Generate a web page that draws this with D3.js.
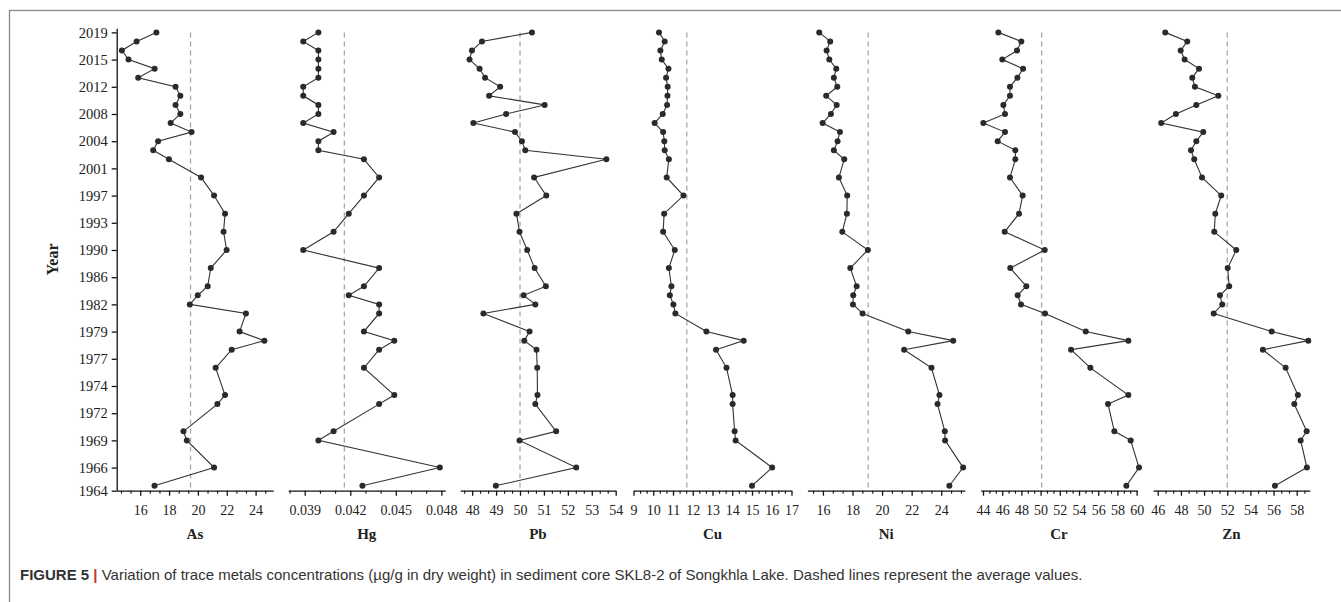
<!DOCTYPE html>
<html><head><meta charset="utf-8">
<script src="https://cdn.jsdelivr.net/npm/d3@7"></script>
<style>body{margin:0;background:#fff} svg{display:block}</style>
</head><body><svg id="c" width="1341" height="602"></svg>
<script>
// ---- data ----
const metals = ["As","Hg","Pb","Cu","Ni","Cr","Zn"];
// sample positions along the core (top = most recent)
const depth = [1,2,3,4,5,6,7,8,9,10,11,12,13,14,15,17,19,21,23,25,27,29,30,31,32,34,35,36,38,41,42,45,46,49,51];
const yearTickDepth = [1,4,7,10,13,16,19,22,25,28,31,34,37,40,43,46,49,51.55];
const yearTickLabels = ["2019","2015","2012","2008","2004","2001","1997","1993","1990","1986","1982","1979","1977","1974","1972","1969","1966","1964"];

const As = [17.12,15.75,14.73,15.19,17.0,15.86,18.45,18.78,18.45,18.78,18.11,19.56,17.24,16.9,17.99,20.22,21.12,21.88,21.78,21.99,20.89,20.68,19.99,19.44,23.33,22.89,24.61,22.34,21.23,21.88,21.35,19.0,19.23,21.12,16.99];
const Hg = [0.0399,0.0389,0.0399,0.0399,0.0399,0.0399,0.0389,0.0389,0.0399,0.0399,0.0389,0.0409,0.0399,0.0399,0.0429,0.0439,0.0429,0.0419,0.0409,0.0389,0.0439,0.0429,0.0419,0.0439,0.0439,0.0429,0.0449,0.0439,0.0429,0.0449,0.0439,0.0409,0.0399,0.0479,0.0428];
const Pb = [50.5,48.41,47.99,47.89,48.31,48.54,49.17,48.71,51.03,49.42,48.05,49.79,50.08,50.22,53.61,50.59,51.1,49.85,49.98,50.3,50.61,51.08,50.15,50.64,48.47,50.4,50.18,50.69,50.72,50.73,50.64,51.51,49.98,52.35,48.99];
const Cu = [10.29,10.58,10.36,10.43,10.77,10.65,10.73,10.72,10.7,10.48,10.07,10.5,10.56,10.58,10.79,10.68,11.53,10.55,10.5,11.09,10.79,10.92,10.84,11.02,11.12,12.69,14.58,13.18,13.71,14.02,14.02,14.12,14.17,16.02,15.0];
const Ni = [15.75,16.49,16.25,16.43,16.9,16.74,16.97,16.22,16.93,16.54,15.98,17.15,16.99,16.74,17.44,17.08,17.64,17.62,17.31,19.04,17.85,18.28,18.05,18.03,18.68,21.77,24.81,21.49,23.34,23.88,23.75,24.24,24.26,25.48,24.55];
const Cr = [45.6,47.99,47.54,46.01,48.17,47.58,46.81,46.81,46.12,46.29,44.03,46.29,45.53,47.37,47.37,46.81,48.13,47.75,46.26,50.43,46.84,48.51,47.61,47.96,50.46,54.7,59.14,53.17,55.18,59.14,57.02,57.68,59.38,60.25,58.93];
const Zn = [46.65,48.55,47.98,48.32,49.56,48.98,49.21,51.23,49.33,47.57,46.3,49.93,49.33,48.87,49.15,49.82,51.48,50.97,50.88,52.78,52.04,52.17,51.37,51.57,50.83,55.84,59.0,55.08,57.04,58.1,57.79,58.86,58.34,58.88,56.12];
const series = [As,Hg,Pb,Cu,Ni,Cr,Zn];
const meanValues = [19.49,0.04161,50.0,11.7,19.06,50.1,52.0];

const xDomains = [[14.37,25.22],[0.03791,0.04826],[47.5,54],[9,17],[14.95,25.6],[43.75,60.07],[45.59,59.13]];
const majorTicks = [
  [16,18,20,22,24],
  [0.039,0.042,0.045,0.048],
  [48,49,50,51,52,53,54],
  [9,10,11,12,13,14,15,16,17],
  [16,18,20,22,24],
  [44,46,48,50,52,54,56,58,60],
  [46,48,50,52,54,56,58]
];
const tickDecimals = [0,3,0,0,0,0,0];
const captionBold = "FIGURE 5";
const captionText = "Variation of trace metals concentrations (\u00b5g/g in dry weight) in sediment core SKL8-2 of Songkhla Lake. Dashed lines represent the average values.";

// ---- layout ----
const panelRanges = [[116.7,273.2],[288.2,445.3],[460.2,615.7],[633.5,791.5],[807.4,964.9],[980.6,1137.3],[1153,1309.8]];
const yTop = 28.3, yBot = 490.7;
const serif = "Liberation Serif, Times New Roman, serif";

const svg = d3.select("#c");
svg.append("rect").attr("x",9.5).attr("y",10.5).attr("width",1345).attr("height",600)
   .attr("fill","none").attr("stroke","#8a8a8a").attr("stroke-width",1.3);

const y = d3.scaleLinear().domain([0.55, 51.55]).range([yTop, yBot]);

// y axis
const yAxis = svg.append("g").attr("transform",`translate(${panelRanges[0][0]},0)`)
  .call(d3.axisLeft(y).tickValues(yearTickDepth).tickFormat((d,i)=>yearTickLabels[i]).tickSize(5).tickSizeOuter(0).tickPadding(4));
yAxis.attr("font-family",serif);
yAxis.selectAll("text").style("font-family",serif).attr("font-size",14.5).attr("fill","#222");
yAxis.selectAll("path,line").attr("stroke","#111").attr("stroke-width",1.3);

svg.append("text").attr("transform",`translate(58,${(yTop+yBot)/2}) rotate(-90)`)
  .attr("text-anchor","middle").style("font-family",serif).attr("font-weight","bold")
  .attr("font-size",16).attr("fill","#222").text("Year");

metals.forEach((m,k)=>{
  const x = d3.scaleLinear().domain(xDomains[k]).range(panelRanges[k]);
  const maj = majorTicks[k];
  const step = (maj[1]-maj[0])/3;
  const minor = [];
  for (let i=-30;i<=60;i++){
    if (i%3===0) continue;
    const v = maj[0] + i*step;
    if (v >= xDomains[k][0]-1e-9 && v <= xDomains[k][1]+1e-9) minor.push(v);
  }
  const g = svg.append("g");
  const gm = g.append("g").attr("transform",`translate(0,${yBot})`)
    .call(d3.axisBottom(x).tickValues(minor).tickSize(3).tickSizeOuter(0).tickFormat(""));
  gm.select(".domain").remove();
  gm.selectAll("line").attr("stroke","#111").attr("stroke-width",1.1);
  const ga = g.append("g").attr("transform",`translate(0,${yBot})`)
    .call(d3.axisBottom(x).tickValues(maj).tickSize(5).tickSizeOuter(0).tickPadding(9)
      .tickFormat(d3.format(`.${tickDecimals[k]}f`)));
  ga.attr("font-family",serif);
  ga.selectAll("path,line").attr("stroke","#111").attr("stroke-width",1.3);
  ga.selectAll("text").style("font-family",serif).attr("font-size",14).attr("fill","#222");

  g.append("text").attr("x",(panelRanges[k][0]+panelRanges[k][1])/2).attr("y",539)
    .attr("text-anchor","middle").style("font-family",serif).attr("font-weight","bold")
    .attr("font-size",15).attr("fill","#222").text(m);

  g.append("line").attr("x1",x(meanValues[k])).attr("x2",x(meanValues[k]))
    .attr("y1",y(depth[0])).attr("y2",yBot)
    .attr("stroke","#a8a8a8").attr("stroke-width",1.3).attr("stroke-dasharray","5,4");

  const vals = series[k];
  const line = d3.line().x(v=>x(v)).y((v,i)=>y(depth[i]));
  g.append("path").datum(vals).attr("d",line).attr("fill","none")
    .attr("stroke","#333").attr("stroke-width",1.1);
  g.selectAll("circle.p").data(vals).join("circle").attr("class","p")
    .attr("cx",v=>x(v)).attr("cy",(v,i)=>y(depth[i])).attr("r",3).attr("fill","#2a2a2a");
});

// caption
const cap = svg.append("text").attr("x",20).attr("y",580)
  .style("font-family","Liberation Sans, Arial, sans-serif").attr("font-size",15).attr("fill","#333");
cap.append("tspan").attr("font-weight","bold").text(captionBold + " ");
cap.append("tspan").attr("fill","#c0392b").attr("font-weight","bold").text("|");
cap.append("tspan").text(" " + captionText);
</script>
</body></html>
